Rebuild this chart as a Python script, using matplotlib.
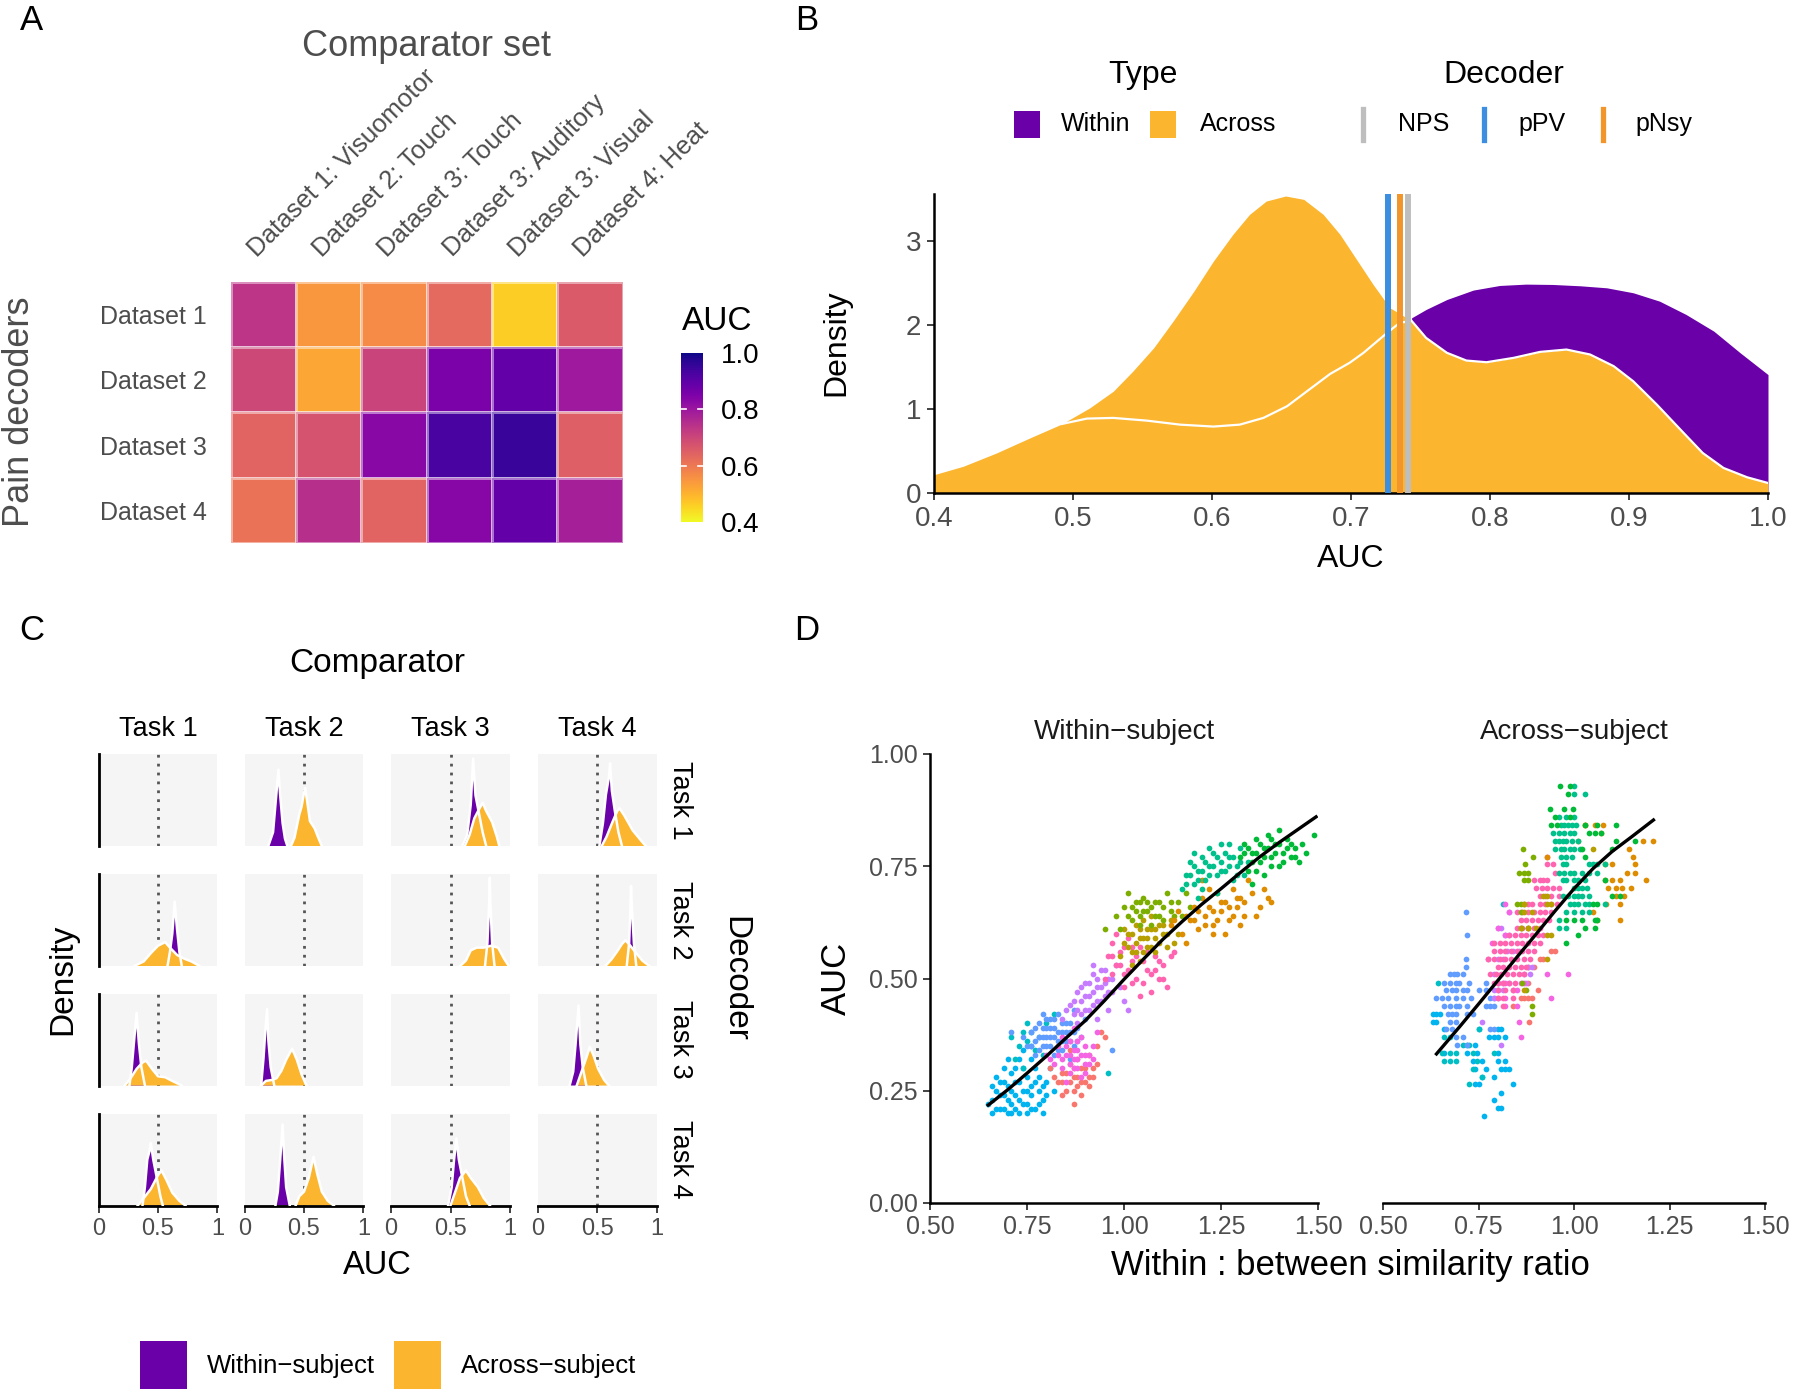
import numpy as np
import matplotlib
matplotlib.use("Agg")
import matplotlib.pyplot as plt
from matplotlib.patches import Rectangle
from matplotlib.lines import Line2D

plt.rcParams['font.family'] = ['Liberation Sans', 'DejaVu Sans']

W, H = 1800, 1395
GREY = '#4D4D4D'
PURPLE = '#6A00A8'
YELLOW = '#FCB52E'

# ---------------- Panel A data ----------------
comparators = ["Dataset 1: Visuomotor", "Dataset 2: Touch", "Dataset 3: Touch",
               "Dataset 3: Auditory", "Dataset 3: Visual", "Dataset 4: Heat"]
decoders = ["Dataset 1", "Dataset 2", "Dataset 3", "Dataset 4"]
auc_dataset1 = [0.736, 0.547, 0.568, 0.631, 0.460, 0.661]
auc_dataset2 = [0.697, 0.520, 0.706, 0.856, 0.892, 0.796]
auc_dataset3 = [0.640, 0.676, 0.832, 0.928, 0.952, 0.649]
auc_dataset4 = [0.613, 0.748, 0.640, 0.835, 0.892, 0.784]

# ---------------- Panel B data ----------------
# upper yellow outline up to where it meets the purple area
b_across_x = [0.40, 0.421, 0.445, 0.469, 0.492, 0.512, 0.529, 0.543, 0.558, 0.572, 0.587, 0.601,
              0.615, 0.627, 0.639, 0.653, 0.666, 0.680, 0.692, 0.704, 0.716, 0.728, 0.7436]
b_across_y = [0.218, 0.318, 0.477, 0.656, 0.822, 1.013, 1.212, 1.45, 1.728, 2.046, 2.404, 2.761,
              3.079, 3.317, 3.476, 3.536, 3.496, 3.317, 3.08, 2.78, 2.48, 2.205, 2.05]
# white line
b_lower_x = [0.492, 0.51, 0.529, 0.553, 0.577, 0.601, 0.62, 0.637, 0.654, 0.67, 0.685, 0.699, 0.709,
             0.726, 0.735, 0.7436, 0.754, 0.769, 0.783, 0.7975, 0.817, 0.836, 0.855, 0.872, 0.889,
             0.903, 0.92, 0.937, 0.953, 0.968, 0.985, 1.0]
b_lower_y = [0.822, 0.886, 0.894, 0.862, 0.814, 0.791, 0.814, 0.894, 1.033, 1.232, 1.418, 1.55, 1.669,
             1.907, 2.026, 2.05, 1.847, 1.669, 1.577, 1.557, 1.609, 1.68, 1.708, 1.649, 1.51,
             1.331, 1.053, 0.755, 0.477, 0.298, 0.187, 0.119]
b_within_x = [0.7436, 0.754, 0.769, 0.788, 0.807, 0.826, 0.845, 0.865, 0.884, 0.903, 0.922, 0.941,
              0.961, 0.98, 1.0]
b_within_y = [2.086, 2.185, 2.304, 2.416, 2.471, 2.487, 2.483, 2.467, 2.443, 2.384, 2.284, 2.126,
              1.927, 1.669, 1.41]
decoder_names = ["NPS", "pPV", "pNsy"]
decoder_auc = [0.7413, 0.7265, 0.7356]
decoder_colors = ['#BEBEBE', '#3C8EE0', '#F2962B']

# ---------------- Panel C data (AUC, density) ----------------
tasks = ["Task 1", "Task 2", "Task 3", "Task 4"]
c_within_task1 = [None,
                  [(0.20, 0), (0.24, 0.15), (0.26, 0.45), (0.285, 0.83), (0.30, 0.55), (0.32, 0.25), (0.34, 0.08), (0.36, 0)],
                  [(0.60, 0), (0.64, 0.12), (0.67, 0.45), (0.69, 0.95), (0.71, 0.55), (0.74, 0.35), (0.77, 0.15), (0.80, 0)],
                  [(0.52, 0), (0.55, 0.25), (0.575, 0.56), (0.60, 0.75), (0.61, 0.90), (0.625, 0.6), (0.65, 0.38), (0.68, 0.15), (0.71, 0)]]
c_across_task1 = [None,
                  [(0.39, 0), (0.42, 0.09), (0.46, 0.34), (0.48, 0.43), (0.50, 0.58), (0.51, 0.63), (0.525, 0.50), (0.55, 0.27), (0.59, 0.19), (0.62, 0.09), (0.65, 0)],
                  [(0.62, 0), (0.66, 0.12), (0.70, 0.30), (0.74, 0.40), (0.77, 0.47), (0.80, 0.38), (0.85, 0.26), (0.89, 0.10), (0.91, 0)],
                  [(0.54, 0), (0.58, 0.10), (0.63, 0.26), (0.67, 0.38), (0.69, 0.41), (0.73, 0.33), (0.80, 0.17), (0.87, 0.06), (0.91, 0)]]
c_within_task2 = [[(0.58, 0), (0.60, 0.15), (0.62, 0.35), (0.64, 0.70), (0.66, 0.40), (0.68, 0.15), (0.70, 0)],
                  None,
                  [(0.79, 0), (0.81, 0.25), (0.825, 0.7), (0.83, 0.96), (0.835, 0.7), (0.85, 0.25), (0.87, 0)],
                  [(0.75, 0), (0.77, 0.25), (0.78, 0.6), (0.786, 0.87), (0.795, 0.6), (0.81, 0.25), (0.83, 0)]]
c_across_task2 = [[(0.30, 0), (0.38, 0.05), (0.44, 0.14), (0.50, 0.22), (0.56, 0.26), (0.60, 0.20), (0.66, 0.12), (0.72, 0.08), (0.78, 0.05), (0.85, 0)],
                  None,
                  [(0.58, 0), (0.63, 0.06), (0.67, 0.17), (0.72, 0.20), (0.78, 0.20), (0.84, 0.22), (0.90, 0.20), (0.95, 0.08), (0.99, 0)],
                  [(0.57, 0), (0.62, 0.07), (0.67, 0.16), (0.71, 0.24), (0.74, 0.28), (0.78, 0.22), (0.83, 0.14), (0.88, 0.06), (0.94, 0)]]
c_within_task3 = [[(0.26, 0), (0.28, 0.2), (0.30, 0.5), (0.32, 0.79), (0.34, 0.45), (0.36, 0.2), (0.39, 0)],
                  [(0.14, 0), (0.16, 0.3), (0.175, 0.6), (0.19, 0.83), (0.20, 0.5), (0.22, 0.2), (0.25, 0)],
                  None,
                  [(0.27, 0), (0.30, 0.15), (0.32, 0.45), (0.345, 0.87), (0.36, 0.45), (0.38, 0.2), (0.41, 0)]]
c_across_task3 = [[(0.22, 0), (0.27, 0.08), (0.32, 0.18), (0.37, 0.25), (0.40, 0.27), (0.45, 0.18), (0.50, 0.10), (0.56, 0.09), (0.62, 0.05), (0.70, 0)],
                  [(0.14, 0), (0.18, 0.05), (0.23, 0.06), (0.27, 0.08), (0.31, 0.16), (0.35, 0.28), (0.40, 0.40), (0.44, 0.28), (0.48, 0.12), (0.52, 0)],
                  None,
                  [(0.33, 0), (0.37, 0.15), (0.41, 0.30), (0.44, 0.42), (0.47, 0.33), (0.51, 0.18), (0.56, 0.06), (0.60, 0)]]
c_within_task4 = [[(0.37, 0), (0.39, 0.2), (0.41, 0.5), (0.43, 0.6), (0.44, 0.68), (0.46, 0.5), (0.49, 0.3), (0.52, 0.1), (0.54, 0)],
                  [(0.26, 0), (0.28, 0.15), (0.30, 0.5), (0.32, 0.88), (0.335, 0.5), (0.35, 0.2), (0.38, 0)],
                  [(0.48, 0), (0.51, 0.2), (0.53, 0.5), (0.55, 0.73), (0.57, 0.5), (0.60, 0.3), (0.63, 0.1), (0.66, 0)],
                  None]
c_across_task4 = [[(0.33, 0), (0.38, 0.08), (0.44, 0.18), (0.50, 0.33), (0.53, 0.38), (0.57, 0.28), (0.62, 0.14), (0.68, 0.05), (0.73, 0)],
                  [(0.43, 0), (0.46, 0.10), (0.50, 0.15), (0.54, 0.30), (0.58, 0.53), (0.61, 0.35), (0.65, 0.15), (0.70, 0.05), (0.75, 0)],
                  [(0.50, 0), (0.54, 0.15), (0.58, 0.30), (0.63, 0.38), (0.67, 0.30), (0.73, 0.20), (0.78, 0.08), (0.83, 0)],
                  None]

# ---------------- Panel D data (ratio, AUC) ----------------
# within-subject points, per group
w_sky = [(0.65, 0.22), (0.66, 0.23), (0.67, 0.25), (0.68, 0.21), (0.68, 0.27), (0.69, 0.24), (0.70, 0.20),
         (0.70, 0.26), (0.71, 0.22), (0.71, 0.29), (0.72, 0.24), (0.72, 0.21), (0.73, 0.27), (0.73, 0.23),
         (0.74, 0.25), (0.74, 0.30), (0.75, 0.22), (0.75, 0.28), (0.76, 0.24), (0.76, 0.26), (0.77, 0.21),
         (0.77, 0.30), (0.78, 0.25), (0.78, 0.28), (0.79, 0.20), (0.79, 0.23), (0.80, 0.27), (0.81, 0.30),
         (0.70, 0.32), (0.74, 0.34), (0.67, 0.28), (0.82, 0.25), (0.76, 0.32), (0.69, 0.21), (0.75, 0.20),
         (0.66, 0.26), (0.67, 0.21), (0.68, 0.24), (0.69, 0.27), (0.70, 0.23), (0.71, 0.25), (0.72, 0.27),
         (0.72, 0.30), (0.73, 0.20), (0.74, 0.22), (0.75, 0.25), (0.76, 0.21), (0.77, 0.27), (0.78, 0.22),
         (0.79, 0.26), (0.80, 0.24), (0.71, 0.20), (0.73, 0.32), (0.69, 0.30), (0.66, 0.20)]
w_teal = [(0.72, 0.32), (0.73, 0.35), (0.75, 0.36), (0.76, 0.38), (0.74, 0.30), (0.78, 0.37), (0.77, 0.34),
          (0.80, 0.40), (0.82, 0.42), (0.75, 0.40), (0.96, 0.29), (0.71, 0.37), (0.79, 0.33), (0.74, 0.38),
          (0.76, 0.35)]
w_blue = [(0.75, 0.35), (0.76, 0.38), (0.77, 0.36), (0.78, 0.40), (0.78, 0.34), (0.79, 0.37), (0.80, 0.39),
          (0.80, 0.35), (0.81, 0.41), (0.81, 0.37), (0.82, 0.33), (0.82, 0.39), (0.83, 0.36), (0.83, 0.42),
          (0.84, 0.38), (0.84, 0.34), (0.85, 0.40), (0.85, 0.36), (0.86, 0.38), (0.87, 0.43), (0.87, 0.35),
          (0.88, 0.39), (0.89, 0.37), (0.90, 0.41), (0.71, 0.38), (0.97, 0.34), (0.79, 0.42), (0.86, 0.32),
          (0.76, 0.35), (0.77, 0.39), (0.78, 0.37), (0.79, 0.35), (0.79, 0.39), (0.80, 0.37), (0.81, 0.35),
          (0.81, 0.39), (0.82, 0.37), (0.82, 0.41), (0.83, 0.38), (0.83, 0.34), (0.84, 0.36), (0.84, 0.40),
          (0.85, 0.38), (0.86, 0.36), (0.86, 0.40), (0.87, 0.38), (0.88, 0.36), (0.80, 0.41), (0.77, 0.33),
          (0.74, 0.37)]
w_red = [(0.81, 0.30), (0.83, 0.27), (0.84, 0.29), (0.85, 0.25), (0.86, 0.31), (0.87, 0.28), (0.88, 0.26),
         (0.88, 0.32), (0.89, 0.30), (0.90, 0.27), (0.91, 0.33), (0.92, 0.30), (0.93, 0.35), (0.94, 0.38),
         (0.89, 0.24), (0.87, 0.22), (0.91, 0.28), (0.86, 0.34), (0.95, 0.37), (0.82, 0.28), (0.84, 0.27),
         (0.85, 0.29), (0.86, 0.27), (0.87, 0.30), (0.88, 0.28), (0.89, 0.27), (0.90, 0.30), (0.91, 0.26),
         (0.92, 0.28), (0.93, 0.31), (0.84, 0.24), (0.87, 0.25)]
w_magenta = [(0.80, 0.33), (0.82, 0.31), (0.83, 0.35), (0.84, 0.30), (0.85, 0.33), (0.86, 0.29), (0.86, 0.36),
             (0.87, 0.32), (0.88, 0.34), (0.88, 0.30), (0.89, 0.37), (0.89, 0.28), (0.90, 0.33), (0.91, 0.31),
             (0.92, 0.35), (0.93, 0.38), (0.85, 0.27), (0.87, 0.39), (0.90, 0.29), (0.84, 0.37), (0.81, 0.32),
             (0.83, 0.33), (0.84, 0.32), (0.85, 0.35), (0.86, 0.31), (0.87, 0.34), (0.87, 0.30), (0.88, 0.32),
             (0.88, 0.36), (0.89, 0.33), (0.90, 0.31), (0.90, 0.35), (0.91, 0.33), (0.92, 0.32), (0.86, 0.33)]
w_purple = [(0.84, 0.41), (0.86, 0.44), (0.87, 0.42), (0.88, 0.47), (0.89, 0.45), (0.90, 0.49), (0.90, 0.43),
            (0.91, 0.46), (0.92, 0.51), (0.92, 0.44), (0.93, 0.48), (0.94, 0.52), (0.94, 0.45), (0.95, 0.49),
            (0.96, 0.47), (0.97, 0.50), (0.98, 0.53), (0.99, 0.48), (1.00, 0.45), (0.93, 0.41), (0.96, 0.43),
            (1.01, 0.43), (0.88, 0.40), (0.85, 0.43), (0.87, 0.45), (0.88, 0.43), (0.89, 0.48), (0.90, 0.46),
            (0.91, 0.49), (0.91, 0.43), (0.92, 0.47), (0.93, 0.45), (0.93, 0.50), (0.94, 0.48), (0.95, 0.46),
            (0.95, 0.52), (0.96, 0.50), (0.97, 0.47), (0.89, 0.42), (0.92, 0.53)]
w_pink = [(0.96, 0.55), (0.97, 0.58), (0.98, 0.53), (0.99, 0.56), (1.00, 0.51), (1.01, 0.59), (1.02, 0.54),
          (1.03, 0.50), (1.04, 0.57), (1.05, 0.49), (1.06, 0.52), (1.07, 0.47), (1.08, 0.55), (1.09, 0.50),
          (1.10, 0.53), (1.12, 0.55), (1.11, 0.48), (1.04, 0.46), (0.95, 0.50), (0.98, 0.60), (1.13, 0.56),
          (0.97, 0.55), (0.99, 0.53), (1.00, 0.57), (1.01, 0.52), (1.02, 0.57), (1.03, 0.55), (1.05, 0.54),
          (1.06, 0.56), (1.07, 0.51), (1.08, 0.52), (1.09, 0.54), (1.10, 0.50), (0.97, 0.51), (1.02, 0.49),
          (1.00, 0.48)]
w_gold = [(0.99, 0.55), (1.00, 0.58), (1.01, 0.60), (1.02, 0.56), (1.03, 0.62), (1.04, 0.59), (1.05, 0.63),
          (1.06, 0.57), (1.06, 0.61), (1.07, 0.64), (1.08, 0.59), (1.09, 0.62), (1.10, 0.60), (1.11, 0.57),
          (1.12, 0.63), (1.13, 0.58), (1.14, 0.60), (1.04, 0.54), (1.08, 0.56), (1.00, 0.61), (1.01, 0.57),
          (1.02, 0.60), (1.03, 0.58), (1.04, 0.61), (1.05, 0.59), (1.05, 0.56), (1.06, 0.59), (1.07, 0.61),
          (1.07, 0.57), (1.08, 0.61), (1.09, 0.58), (1.10, 0.62), (1.11, 0.60), (1.03, 0.56), (1.02, 0.53)]
w_olive = [(1.00, 0.66), (1.02, 0.63), (1.03, 0.67), (1.04, 0.64), (1.05, 0.68), (1.06, 0.65), (1.07, 0.62),
           (1.08, 0.67), (1.09, 0.64), (1.10, 0.66), (1.11, 0.69), (1.12, 0.65), (1.14, 0.67), (1.16, 0.69),
           (0.99, 0.61), (1.01, 0.69), (1.15, 0.64), (1.17, 0.66), (0.95, 0.61), (1.01, 0.64), (1.02, 0.66),
           (1.03, 0.65), (1.04, 0.67), (1.05, 0.65), (1.06, 0.67), (1.07, 0.66), (1.08, 0.64), (1.09, 0.67),
           (1.10, 0.63), (1.12, 0.67), (1.13, 0.64), (1.04, 0.62), (0.98, 0.64)]
w_orange = [(1.12, 0.62), (1.14, 0.65), (1.15, 0.60), (1.17, 0.63), (1.18, 0.66), (1.19, 0.61), (1.20, 0.68),
            (1.21, 0.64), (1.22, 0.66), (1.23, 0.62), (1.24, 0.69), (1.25, 0.65), (1.26, 0.67), (1.27, 0.63),
            (1.28, 0.70), (1.29, 0.66), (1.30, 0.68), (1.31, 0.64), (1.33, 0.69), (1.35, 0.66), (1.37, 0.68),
            (1.26, 0.60), (1.22, 0.70), (1.16, 0.58), (1.32, 0.72), (1.20, 0.72), (1.13, 0.63), (1.16, 0.64),
            (1.18, 0.63), (1.19, 0.65), (1.21, 0.62), (1.23, 0.65), (1.24, 0.63), (1.25, 0.67), (1.27, 0.66),
            (1.28, 0.64), (1.29, 0.68), (1.31, 0.67), (1.34, 0.64), (1.36, 0.70), (1.38, 0.67), (1.30, 0.62),
            (1.23, 0.60)]
w_tealgreen = [(1.15, 0.70), (1.16, 0.73), (1.17, 0.76), (1.18, 0.71), (1.19, 0.74), (1.20, 0.77), (1.21, 0.72),
               (1.22, 0.75), (1.23, 0.78), (1.24, 0.73), (1.25, 0.76), (1.26, 0.74), (1.27, 0.77), (1.28, 0.72),
               (1.29, 0.75), (1.30, 0.79), (1.31, 0.73), (1.32, 0.76), (1.19, 0.68), (1.24, 0.69), (1.27, 0.80),
               (1.22, 0.79), (1.16, 0.71), (1.17, 0.73), (1.18, 0.75), (1.19, 0.72), (1.20, 0.74), (1.21, 0.76),
               (1.22, 0.73), (1.23, 0.75), (1.24, 0.77), (1.25, 0.74), (1.26, 0.78), (1.27, 0.75), (1.28, 0.77),
               (1.29, 0.73), (1.30, 0.76), (1.20, 0.70), (1.18, 0.78), (1.25, 0.80)]
w_green = [(1.30, 0.77), (1.31, 0.80), (1.32, 0.74), (1.33, 0.78), (1.34, 0.81), (1.35, 0.76), (1.36, 0.79),
           (1.37, 0.82), (1.38, 0.77), (1.39, 0.80), (1.40, 0.75), (1.41, 0.78), (1.42, 0.81), (1.43, 0.77),
           (1.44, 0.79), (1.45, 0.76), (1.47, 0.78), (1.49, 0.82), (1.36, 0.73), (1.40, 0.83), (1.33, 0.71),
           (1.31, 0.78), (1.32, 0.79), (1.33, 0.76), (1.34, 0.78), (1.35, 0.80), (1.36, 0.77), (1.37, 0.79),
           (1.38, 0.81), (1.39, 0.78), (1.40, 0.80), (1.41, 0.76), (1.42, 0.79), (1.43, 0.80), (1.44, 0.77),
           (1.46, 0.80), (1.38, 0.75), (1.34, 0.74)]

# across-subject points, per group: (AUC, [ratios])
a_green = [(0.929, [0.963, 0.99]), (0.912, [0.985]), (0.877, [0.937, 0.975, 0.997]), (0.859, [0.95, 0.99]),
           (0.842, [0.94, 0.956, 1.03, 1.06, 1.11]), (0.825, [1.04, 1.055, 1.07]), (0.807, [1.11, 1.16]),
           (0.788, [1.02, 1.10]), (0.771, [1.03]), (0.719, [1.08]), (0.684, [1.10, 1.12]), (0.666, [1.05, 1.06]),
           (0.630, [0.98, 1.00, 1.02, 1.055, 1.06]), (0.613, [1.03, 1.055]), (0.597, [1.01]), (0.580, [0.98])]
a_tealgreen = [(0.929, [1.0]), (0.912, [0.999, 1.03]), (0.859, [0.96, 0.98, 1.0]),
               (0.842, [0.965, 0.975, 0.985, 0.995, 1.005]), (0.825, [0.945, 0.96, 0.975, 0.99, 1.0]),
               (0.807, [0.95, 0.96, 0.97, 0.98, 0.995, 1.01]), (0.788, [0.95, 0.965, 0.975, 0.99, 1.0, 1.015]),
               (0.771, [0.965, 0.98, 0.995]), (0.754, [0.97, 0.98, 1.04, 1.05, 1.06, 1.08]),
               (0.736, [0.96, 0.975, 0.99, 1.0, 1.02, 1.04, 1.06]), (0.719, [0.97, 0.98, 1.0, 1.01, 1.03]),
               (0.701, [1.0, 1.01, 1.02, 1.035]), (0.684, [0.97, 0.985, 1.0, 1.01, 1.02, 1.04]),
               (0.666, [0.99, 1.0, 1.01, 1.03, 1.04, 1.08]), (0.648, [0.98, 1.0, 1.02, 1.04]), (0.630, [0.96]),
               (0.613, [0.96, 0.98])]
a_orange = [(0.842, [1.03, 1.055, 1.075]), (0.825, [1.07]), (0.807, [1.01, 1.18, 1.208]), (0.788, [1.145]),
            (0.771, [0.93, 1.155]), (0.754, [1.08, 1.10, 1.16]), (0.736, [1.14, 1.16]),
            (0.719, [1.08, 1.10, 1.12, 1.188]), (0.701, [1.09, 1.11, 1.125, 1.15]), (0.684, [1.11, 1.13]),
            (0.666, [1.085, 1.12]), (0.648, [1.05]), (0.630, [1.06, 1.12])]
a_olive = [(0.788, [0.867]), (0.771, [0.892]), (0.754, [0.872]), (0.736, [0.855, 0.87, 0.88]), (0.719, [0.87, 0.88]),
           (0.666, [0.85, 0.86, 0.87]), (0.648, [0.86]), (0.613, [0.86, 0.88]), (0.491, [0.865]),
           (0.474, [0.875]), (0.439, [0.89]), (0.421, [0.89])]
a_gold = [(0.842, [1.03]), (0.788, [1.05]), (0.684, [0.92, 0.93]), (0.666, [0.87, 0.93, 0.94]), (0.648, [0.87, 0.89]),
          (0.613, [0.86, 0.88, 0.90]), (0.597, [0.93, 0.94]), (0.544, [0.93]), (0.474, [0.87])]
a_pink = [(0.771, [0.93]), (0.754, [0.93, 0.945]), (0.736, [0.95]), (0.719, [0.896, 0.91, 0.92, 0.93]),
          (0.701, [0.90, 0.915, 0.93, 0.945, 0.96]), (0.684, [0.91, 0.925, 0.94, 0.96, 1.01]),
          (0.666, [0.88, 0.89, 0.91, 0.925, 0.94, 0.955]), (0.648, [0.85, 0.865, 0.88, 0.895, 0.91, 0.925, 0.94]),
          (0.630, [0.86, 0.875, 0.89, 0.905, 0.92, 0.935]), (0.613, [0.85, 0.865, 0.88, 0.895, 0.91]),
          (0.597, [0.83, 0.845, 0.86, 0.875, 0.89, 0.905, 0.92]),
          (0.580, [0.79, 0.805, 0.82, 0.835, 0.85, 0.865, 0.88, 0.895, 0.91]),
          (0.562, [0.79, 0.805, 0.82, 0.835, 0.85, 0.865, 0.88, 0.895]),
          (0.544, [0.775, 0.79, 0.805, 0.82, 0.835, 0.85, 0.87, 0.885]),
          (0.526, [0.80, 0.815, 0.83, 0.845, 0.86, 0.875]), (0.509, [0.78, 0.795, 0.81, 0.825, 0.84, 0.855, 0.87]),
          (0.491, [0.79, 0.80, 0.815, 0.83, 0.845]), (0.474, [0.80, 0.82, 0.84]), (0.457, [0.80, 0.815, 0.84]),
          (0.439, [0.815])]
a_magenta = [(0.666, [0.82]), (0.648, [0.829]), (0.613, [0.80]), (0.597, [0.82]), (0.580, [0.785]), (0.544, [0.775]),
             (0.509, [0.93, 0.985]), (0.491, [0.82, 0.86, 0.87]), (0.474, [0.84, 0.85]), (0.457, [0.80, 0.82, 0.94]),
             (0.439, [0.82, 0.85]), (0.404, [0.855]), (0.369, [0.86])]
a_purple = [(0.648, [0.83]), (0.613, [0.80, 0.81]), (0.597, [0.82, 0.83]), (0.562, [0.825, 0.84, 0.855]),
            (0.544, [0.80, 0.815]), (0.526, [0.88, 0.89]), (0.509, [0.79, 0.87, 0.885]),
            (0.491, [0.80, 0.815, 0.83, 0.875]), (0.474, [0.79, 0.80, 0.815]), (0.457, [0.79]), (0.404, [0.76]),
            (0.351, [0.81])]
a_red = [(0.562, [0.94, 0.95]), (0.544, [0.91, 0.92]), (0.526, [0.88, 0.895]), (0.491, [0.88]), (0.474, [0.905]),
         (0.457, [0.86, 0.87, 0.88, 0.89]), (0.439, [0.84]), (0.404, [0.882])]
a_blue = [(0.648, [0.716]), (0.597, [0.72]), (0.544, [0.716]), (0.526, [0.716]), (0.509, [0.675, 0.685, 0.695, 0.71]),
          (0.491, [0.66, 0.675, 0.69, 0.70, 0.725, 0.77]), (0.474, [0.665, 0.68, 0.69, 0.71, 0.72, 0.75, 0.77]),
          (0.457, [0.64, 0.655, 0.67, 0.69, 0.71, 0.73, 0.78, 0.79]),
          (0.439, [0.66, 0.675, 0.69, 0.70, 0.72, 0.77, 0.78, 0.79]), (0.421, [0.67, 0.68, 0.69, 0.72, 0.735]),
          (0.404, [0.675, 0.69]), (0.387, [0.665, 0.68, 0.78, 0.79]), (0.369, [0.69, 0.71]), (0.351, [0.695, 0.72])]
a_sky = [(0.421, [0.63, 0.64, 0.65]), (0.404, [0.63, 0.64]), (0.387, [0.66, 0.75, 0.80, 0.81]),
         (0.369, [0.777, 0.79, 0.80, 0.82]), (0.351, [0.72, 0.74]), (0.333, [0.66, 0.72, 0.745, 0.80]),
         (0.316, [0.735, 0.76, 0.80, 0.82]), (0.298, [0.74, 0.77, 0.81, 0.82, 0.83]), (0.281, [0.76, 0.79]),
         (0.264, [0.74, 0.75, 0.84]), (0.246, [0.81]), (0.229, [0.79]), (0.211, [0.80, 0.81]), (0.193, [0.765])]
a_teal = [(0.666, [0.815]), (0.491, [0.645]), (0.387, [0.75]), (0.369, [0.66, 0.675]), (0.351, [0.71, 0.725]),
          (0.333, [0.655, 0.675, 0.69, 0.735, 0.79]), (0.316, [0.66, 0.675, 0.69, 0.745]), (0.298, [0.735]),
          (0.281, [0.76]), (0.264, [0.725])]

fit_within_x = [0.65, 0.70, 0.75, 0.80, 0.85, 0.90, 0.95, 1.00, 1.05, 1.10, 1.15, 1.20, 1.25, 1.30,
                1.35, 1.40, 1.45, 1.495]
fit_within_y = [0.218, 0.252, 0.289, 0.327, 0.367, 0.406, 0.451, 0.498, 0.543, 0.587, 0.627, 0.665,
                0.700, 0.736, 0.771, 0.803, 0.833, 0.860]
fit_across_x = [0.64, 0.70, 0.75, 0.80, 0.85, 0.90, 0.95, 1.00, 1.05, 1.10, 1.15, 1.208]
fit_across_y = [0.332, 0.392, 0.443, 0.495, 0.547, 0.598, 0.650, 0.700, 0.745, 0.783, 0.815, 0.853]

HUE = {'red': '#F8766D', 'orange': '#DE8C00', 'gold': '#B79F00', 'olive': '#7CAE00',
       'green': '#00BA38', 'tealgreen': '#00C08B', 'teal': '#00BFC4', 'sky': '#00B4F0',
       'blue': '#619CFF', 'purple': '#C77CFF', 'magenta': '#F564E3', 'pink': '#FF64B0'}


def px_box(left, top, width, height):
    return [left / W, 1 - (top + height) / H, width / W, height / H]


def fx(x):
    return x / W


def fy(y):
    return 1 - y / H


fig = plt.figure(figsize=(W / 100, H / 100), dpi=100)

# panel letters
for lab, (x, y) in zip("ABCD", [(32, 21), (807, 21), (32, 630), (807, 630)]):
    fig.text(fx(x), fy(y), lab, fontsize=25, ha='center', va='center')

# ================= Panel A =================
axA = fig.add_axes(px_box(230.5, 282, 392, 261))
Z = np.array([auc_dataset1, auc_dataset2, auc_dataset3, auc_dataset4])
mesh = axA.pcolormesh(Z, cmap='plasma_r', vmin=0.4, vmax=1.0,
                      edgecolors=(1, 1, 1, 0.45), linewidth=0.8)
axA.set_xlim(0, 6)
axA.set_ylim(4, 0)
axA.set_yticks(np.arange(4) + 0.5, decoders)
axA.set_xticks([])
axA.tick_params(axis='y', length=0, pad=17, labelsize=18, labelcolor=GREY)
for sp in axA.spines.values():
    sp.set_visible(False)
for i, lab in enumerate(comparators):
    axA.text(i + 0.5 - 0.1, -0.37, lab, rotation=45, rotation_mode='anchor',
             ha='left', va='baseline', fontsize=18.5, color=GREY)
fig.text(fx(427), fy(47), "Comparator set", fontsize=26, color=GREY, ha='center', va='center')
fig.text(fx(20), fy(412), "Pain decoders", fontsize=26, color=GREY, ha='center', va='center',
         rotation=90)

cax = fig.add_axes(px_box(681, 353, 22, 169))
cb = fig.colorbar(mesh, cax=cax, ticks=[0.4, 0.6, 0.8, 1.0])
cb.outline.set_visible(False)
cb.set_ticklabels(['0.4', '0.6', '0.8', '1.0'])
cax.tick_params(length=0, labelsize=20, pad=13)
for v in [0.6, 0.8]:
    cax.axhline(v, xmin=0, xmax=0.22, color='white', lw=1.2)
    cax.axhline(v, xmin=0.78, xmax=1, color='white', lw=1.2)
fig.text(fx(682), fy(321), "AUC", fontsize=24, ha='left', va='center')

# ================= Panel B =================
axB = fig.add_axes(px_box(934, 194, 834, 299))
axB.fill_between(b_within_x, 0, b_within_y, color=PURPLE, lw=0, zorder=1)
k = b_lower_x.index(0.7436)
axB.fill_between(b_across_x + b_lower_x[k + 1:], 0, b_across_y + b_lower_y[k + 1:],
                 color=YELLOW, lw=0, zorder=2)
axB.plot(b_lower_x, b_lower_y, color='white', lw=1.6, zorder=3)
for name, v, col in zip(decoder_names, decoder_auc, decoder_colors):
    axB.axvline(v, color=col, lw=4.3, zorder=4)
axB.set_xlim(0.4, 1.0)
axB.set_ylim(0, 3.56)
axB.set_xticks([0.4, 0.5, 0.6, 0.7, 0.8, 0.9, 1.0])
axB.set_xticklabels(['0.4', '0.5', '0.6', '0.7', '0.8', '0.9', '1.0'])
axB.set_yticks([0, 1, 2, 3])
axB.tick_params(labelsize=20, labelcolor=GREY, color='#333333', length=5, width=1.3, pad=4)
for s in ['top', 'right']:
    axB.spines[s].set_visible(False)
for s in ['left', 'bottom']:
    axB.spines[s].set_linewidth(1.8)
axB.set_xlabel("AUC", fontsize=23, labelpad=9)
fig.text(fx(836), fy(343), "Density", fontsize=23, ha='center', va='center', rotation=90)

# legend B
fig.text(fx(1143), fy(75), "Type", fontsize=23, ha='center', va='center')
fig.text(fx(1504), fy(75), "Decoder", fontsize=23, ha='center', va='center')
for x0, col, lab, tx in [(1014, PURPLE, "Within", 1061), (1150, YELLOW, "Across", 1200)]:
    fig.add_artist(Rectangle((fx(x0), fy(138)), 26 / W, 27 / H, transform=fig.transFigure,
                             facecolor=col, edgecolor='none'))
    fig.text(fx(tx), fy(124), lab, fontsize=18, ha='left', va='center')
for xl, col, lab, tx in zip([1363, 1484, 1603], decoder_colors, decoder_names, [1398, 1518, 1635]):
    fig.add_artist(Line2D([fx(xl), fx(xl)], [fy(109), fy(140)], transform=fig.transFigure,
                          color=col, lw=3.8))
    fig.text(fx(tx), fy(124), lab, fontsize=18, ha='left', va='center')

# ================= Panel C =================
c_lefts = [98.5, 244.5, 391, 537.5]
c_tops = [754, 874, 993.5, 1113.5]
c_within = [c_within_task1, c_within_task2, c_within_task3, c_within_task4]
c_across = [c_across_task1, c_across_task2, c_across_task3, c_across_task4]
for r in range(4):
    for c in range(4):
        ax = fig.add_axes(px_box(c_lefts[c], c_tops[r], 119, 92))
        ax.set_facecolor('#F5F5F5')
        ax.set_xlim(0, 1)
        ax.set_ylim(0, 1)
        ax.axvline(0.5, color='#555555', lw=2, linestyle=(0, (1, 2.2)), zorder=1)
        for data, col in [(c_within[r][c], PURPLE), (c_across[r][c], YELLOW)]:
            if data is None:
                continue
            xs = [p[0] for p in data]
            ys = [p[1] for p in data]
            ax.fill(xs, ys, color=col, lw=0, zorder=2)
            ax.plot(xs, ys, color='white', lw=1.8, zorder=3, solid_joinstyle='round')
        ax.set_yticks([])
        for s in ['top', 'right']:
            ax.spines[s].set_visible(False)
        if c == 0:
            ax.spines['left'].set_linewidth(2)
        else:
            ax.spines['left'].set_visible(False)
        if r == 3:
            ax.spines['bottom'].set_linewidth(2)
            ax.set_xticks([0, 0.5, 1])
            ax.set_xticklabels(['0', '0.5', '1'])
            ax.tick_params(axis='x', labelsize=17, labelcolor=GREY, color='#333333',
                           length=5, width=1.3, pad=4)
        else:
            ax.spines['bottom'].set_visible(False)
            ax.set_xticks([])
        if r == 0:
            ax.set_title(tasks[c], fontsize=19.5, pad=13)
        if c == 3:
            fig.text(fx(680), fy(c_tops[r] + 46), tasks[r], fontsize=19.5, rotation=-90,
                     ha='center', va='center')
fig.text(fx(377), fy(663), "Comparator", fontsize=24, ha='center', va='center')
fig.text(fx(63), fy(979), "Density", fontsize=24, ha='center', va='center', rotation=90)
fig.text(fx(735), fy(979), "Decoder", fontsize=24, ha='center', va='center', rotation=-90)
fig.text(fx(377), fy(1266), "AUC", fontsize=23.5, ha='center', va='center')
for x0, col, lab, tx in [(140, PURPLE, "Within\u2212subject", 207), (394, YELLOW, "Across\u2212subject", 461)]:
    fig.add_artist(Rectangle((fx(x0), fy(1389)), 47 / W, 48 / H, transform=fig.transFigure,
                             facecolor=col, edgecolor='none'))
    fig.text(fx(tx), fy(1366), lab, fontsize=18.5, ha='left', va='center')

# ================= Panel D =================
axW = fig.add_axes(px_box(930, 754, 388, 449))
axX = fig.add_axes(px_box(1383, 754, 382, 449))
within_groups = [(w_sky, 'sky'), (w_teal, 'teal'), (w_red, 'red'), (w_blue, 'blue'),
                 (w_magenta, 'magenta'), (w_purple, 'purple'), (w_pink, 'pink'), (w_gold, 'gold'),
                 (w_olive, 'olive'), (w_orange, 'orange'), (w_tealgreen, 'tealgreen'), (w_green, 'green')]
for pts, key in within_groups:
    axW.scatter([p[0] for p in pts], [p[1] for p in pts], s=17, color=HUE[key], lw=0, zorder=2)
axW.plot(fit_within_x, fit_within_y, color='black', lw=2.4, zorder=3)

across_groups = [(a_sky, 'sky'), (a_teal, 'teal'), (a_blue, 'blue'), (a_red, 'red'), (a_purple, 'purple'),
                 (a_magenta, 'magenta'), (a_pink, 'pink'), (a_olive, 'olive'), (a_gold, 'gold'),
                 (a_orange, 'orange'), (a_tealgreen, 'tealgreen'), (a_green, 'green')]
for rows, key in across_groups:
    xs, ys = [], []
    for auc, ratios in rows:
        xs += ratios
        ys += [auc] * len(ratios)
    axX.scatter(xs, ys, s=17, color=HUE[key], lw=0, zorder=2)
axX.plot(fit_across_x, fit_across_y, color='black', lw=2.4, zorder=3)

for ax, title in [(axW, "Within\u2212subject"), (axX, "Across\u2212subject")]:
    ax.set_xlim(0.5, 1.5)
    ax.set_ylim(0, 1.0)
    ax.set_xticks([0.5, 0.75, 1.0, 1.25, 1.5])
    ax.set_xticklabels(['0.50', '0.75', '1.00', '1.25', '1.50'])
    ax.tick_params(labelsize=18, labelcolor=GREY, color='#333333', length=5, width=1.3, pad=4)
    for s in ['top', 'right']:
        ax.spines[s].set_visible(False)
    ax.spines['bottom'].set_linewidth(1.8)
    ax.set_title(title, fontsize=20, pad=11, color='#1A1A1A')
axW.spines['left'].set_linewidth(1.8)
axW.set_yticks([0, 0.25, 0.5, 0.75, 1.0])
axW.set_yticklabels(['0.00', '0.25', '0.50', '0.75', '1.00'])
axX.spines['left'].set_visible(False)
axX.set_yticks([])
fig.text(fx(836), fy(978), "AUC", fontsize=25, ha='center', va='center', rotation=90)
fig.text(fx(1350), fy(1266), "Within : between similarity ratio", fontsize=25, ha='center', va='center')

fig.savefig("out.png", dpi=100)
